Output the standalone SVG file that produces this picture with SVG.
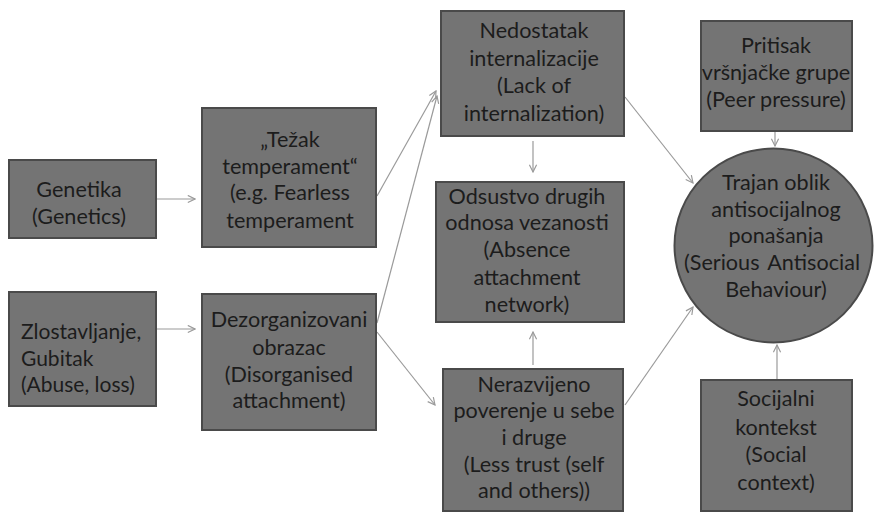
<svg xmlns="http://www.w3.org/2000/svg" width="874" height="512" viewBox="0 0 874 512">
<defs>
<style>
.box{fill:#747474;stroke:#4a4a4a;stroke-width:2}
.t{font-family:Lato,"Open Sans","Liberation Sans",sans-serif;font-size:21.6px;fill:#1c1c1c;text-anchor:middle}
.l{text-anchor:start;font-size:21px}
.c{fill:none;stroke:#9a9a9a;stroke-width:1.2}
</style>
<marker id="ah" viewBox="0 0 10 10" refX="9" refY="5" markerWidth="9" markerHeight="9" markerUnits="userSpaceOnUse" orient="auto">
<path d="M1,1 L9,5 L1,9" fill="none" stroke="#9a9a9a" stroke-width="1.3"/>
</marker>
</defs>
<rect width="874" height="512" fill="#ffffff"/>
<g id="connectors">
<line class="c" x1="157" y1="199" x2="195" y2="199" marker-end="url(#ah)"/>
<line class="c" x1="157" y1="329" x2="195" y2="329" marker-end="url(#ah)"/>
<line class="c" x1="377" y1="196" x2="436" y2="91" marker-end="url(#ah)"/>
<line class="c" x1="377" y1="323" x2="437" y2="96" marker-end="url(#ah)"/>
<line class="c" x1="377" y1="332" x2="435" y2="405" marker-end="url(#ah)"/>
<line class="c" x1="533" y1="141" x2="533" y2="172" marker-end="url(#ah)"/>
<line class="c" x1="533" y1="365" x2="533" y2="332" marker-end="url(#ah)"/>
<line class="c" x1="625" y1="97" x2="693" y2="183" marker-end="url(#ah)"/>
<line class="c" x1="625" y1="405" x2="693" y2="307" marker-end="url(#ah)"/>
<line class="c" x1="775" y1="132" x2="775" y2="146" marker-end="url(#ah)"/>
<line class="c" x1="777" y1="380" x2="777" y2="345" marker-end="url(#ah)"/>
</g>
<g id="genetika">
<rect class="box" x="9" y="160" width="147" height="78"/>
<text class="t" x="79" y="197">Genetika</text>
<text class="t" x="79" y="224">(Genetics)</text>
</g>
<g id="zlostavljanje">
<rect class="box" x="9" y="292" width="147" height="114"/>
<text class="t l" x="21" y="339">Zlostavljanje,</text>
<text class="t l" x="21" y="366">Gubitak</text>
<text class="t l" x="21" y="392">(Abuse, loss)</text>
</g>
<g id="tezak">
<rect class="box" x="202" y="108" width="174" height="139"/>
<text class="t" x="290" y="147">„Težak</text>
<text class="t" x="290" y="174">temperament“</text>
<text class="t" x="290" y="200">(e.g. Fearless</text>
<text class="t" x="290" y="228">temperament</text>
</g>
<g id="dezorganizovani">
<rect class="box" x="202" y="294" width="174" height="136"/>
<text class="t" x="289" y="327">Dezorganizovani</text>
<text class="t" x="289" y="355">obrazac</text>
<text class="t" x="289" y="382">(Disorganised</text>
<text class="t" x="289" y="408">attachment)</text>
</g>
<g id="nedostatak">
<rect class="box" x="441" y="11" width="183" height="125"/>
<text class="t" x="534" y="38">Nedostatak</text>
<text class="t" x="534" y="66">internalizacije</text>
<text class="t" x="534" y="93">(Lack of</text>
<text class="t" x="534" y="121">internalization)</text>
</g>
<g id="odsustvo">
<rect class="box" x="436" y="182" width="188" height="140"/>
<text class="t" x="527" y="204">Odsustvo drugih</text>
<text class="t" x="527" y="230">odnosa vezanosti</text>
<text class="t" x="527" y="257">(Absence</text>
<text class="t" x="527" y="285">attachment</text>
<text class="t" x="527" y="312">network)</text>
</g>
<g id="nerazvijeno">
<rect class="box" x="443" y="369" width="180" height="142"/>
<text class="t" x="534" y="392">Nerazvijeno</text>
<text class="t" x="534" y="418">poverenje u sebe</text>
<text class="t" x="534" y="445">i druge</text>
<text class="t" x="534" y="472">(Less trust (self</text>
<text class="t" x="534" y="498">and others))</text>
</g>
<g id="pritisak">
<rect class="box" x="701" y="21" width="151" height="110"/>
<text class="t" x="776" y="53">Pritisak</text>
<text class="t" x="776" y="80">vršnjačke grupe</text>
<text class="t" x="776" y="107">(Peer pressure)</text>
</g>
<g id="trajan">
<ellipse class="box" cx="773.5" cy="245.5" rx="99" ry="97"/>
<text class="t" x="776" y="190">Trajan oblik</text>
<text class="t" x="776" y="217">antisocijalnog</text>
<text class="t" x="776" y="243">ponašanja</text>
<text class="t" x="772" y="270" word-spacing="3">(Serious Antisocial</text>
<text class="t" x="776" y="297">Behaviour)</text>
</g>
<g id="socijalni">
<rect class="box" x="701" y="380" width="151" height="131"/>
<text class="t" x="776" y="406">Socijalni</text>
<text class="t" x="776" y="435">kontekst</text>
<text class="t" x="776" y="462">(Social</text>
<text class="t" x="776" y="490">context)</text>
</g>
</svg>
